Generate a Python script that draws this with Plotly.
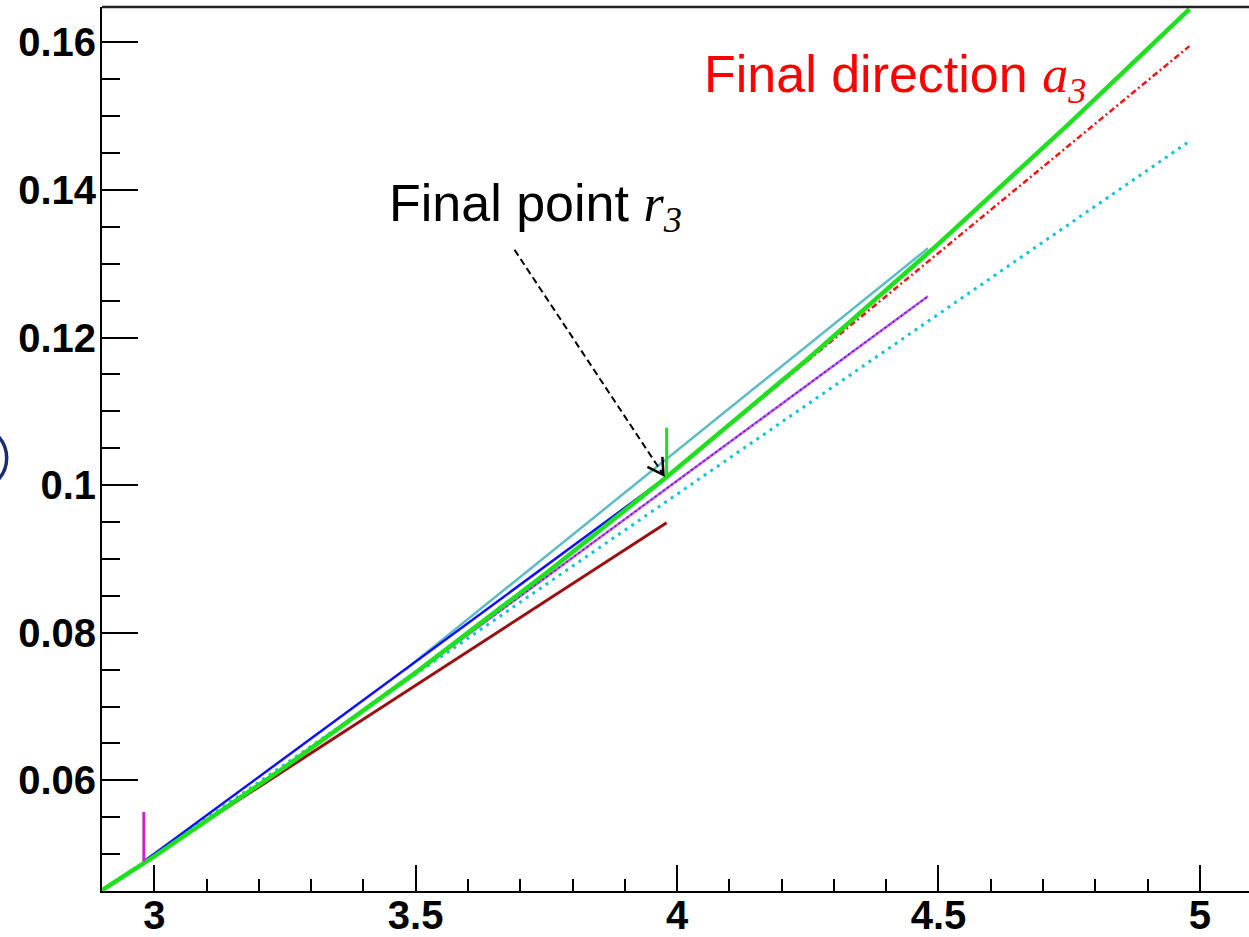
import plotly.graph_objects as go

# ---- values ----------------------------------------------------------------
# exact trajectory (curved)
track_x = [2.90, 3.00, 3.25, 3.50, 3.75, 3.98, 4.25, 4.50, 4.75, 4.98]
track_y = [0.0451, 0.0497, 0.0618, 0.0746, 0.0881, 0.1011, 0.1171, 0.1327, 0.1490, 0.1645]

# chord from the start point to the final point
chord_x = [2.98, 3.98]
chord_y = [0.0490, 0.1011]

# straight stages from the start point
stage_low_x = [2.98, 3.98]
stage_low_y = [0.0490, 0.0949]
stage_long_x = [2.98, 4.98]
stage_long_y = [0.0490, 0.1466]

# stages from the half step
half_a_x = [3.48, 4.48]
half_a_y = [0.0750, 0.1321]
half_b_x = [3.48, 4.48]
half_b_y = [0.0735, 0.1256]

# final direction from the final point
final_dir_x = [3.98, 4.98]
final_dir_y = [0.1011, 0.1595]

# direction markers at start and final point
start_mark_x = [2.98, 2.98]
start_mark_y = [0.0490, 0.0557]
end_mark_x = [3.98, 3.98]
end_mark_y = [0.1011, 0.1078]

x_range = [2.9, 5.094]
y_range = [0.045, 0.1648]
x_ticks = [3, 3.5, 4, 4.5, 5]
x_tick_text = ["3", "3.5", "4", "4.5", "5"]
y_ticks = [0.06, 0.08, 0.1, 0.12, 0.14, 0.16]
y_tick_text = ["0.06", "0.08", "0.1", "0.12", "0.14", "0.16"]

# ---- figure ----------------------------------------------------------------
fig = go.Figure()


def line(x, y, color, width, dash="solid"):
    fig.add_trace(go.Scatter(x=x, y=y, mode="lines", showlegend=False,
                             hoverinfo="skip",
                             line=dict(color=color, width=width, dash=dash)))


line(stage_low_x, stage_low_y, "#9b1010", 3)
line(stage_long_x, stage_long_y, "#10c4d4", 3, "3px,5px")
line(half_b_x, half_b_y, "#d24ee0", 2.5)
line(half_b_x, half_b_y, "#2a2aff", 1.5, "2px,3px")
line(half_a_x, half_a_y, "#5cbcc4", 2.5)
line(chord_x, chord_y, "#1010ff", 2.5)
line(final_dir_x, final_dir_y, "#ff1010", 2.5, "6px,3px,2px,3px")
line(track_x, track_y, "#1ee01e", 4.5)
line(start_mark_x, start_mark_y, "#cc22cc", 3)
line(end_mark_x, end_mark_y, "#1ee01e", 3)

# dashed pointer to the final point
tail = (3.689, 0.1319)
tip = (3.974, 0.1014)
fig.add_shape(type="line", xref="x", yref="y", x0=tail[0], y0=tail[1],
              x1=tip[0], y1=tip[1], line=dict(color="black", width=2, dash="7px,4px"))
# open arrow head
px_per_x = 522.5
px_per_y = 7376.0
head = [(-0.894 * 18, -0.446 * 18), (-0.062 * 18, -0.998 * 18)]
path = "M {:.5f},{:.5f} L {:.5f},{:.5f} L {:.5f},{:.5f}".format(
    tip[0] + head[0][0] / px_per_x, tip[1] - head[0][1] / px_per_y,
    tip[0], tip[1],
    tip[0] + head[1][0] / px_per_x, tip[1] - head[1][1] / px_per_y)
fig.add_shape(type="path", xref="x", yref="y", path=path,
              line=dict(color="black", width=2.5))

serif = "font-family:'Liberation Serif', 'Times New Roman', serif"
fig.add_annotation(x=3.446, y=0.1377, xref="x", yref="y", xanchor="left",
                   yanchor="middle", showarrow=False,
                   text="Final point <span style=\"" + serif + "\"><i>r<sub>3</sub></i></span>",
                   font=dict(family="Liberation Sans, Arial", size=52, color="black"))
fig.add_annotation(x=4.047, y=0.1552, xref="x", yref="y", xanchor="left",
                   yanchor="middle", showarrow=False,
                   text="Final direction <span style=\"" + serif + "\"><i>a<sub>3</sub></i></span>",
                   font=dict(family="Liberation Sans, Arial", size=52, color="#ff0000"))

# frame line along the top of the plot area
fig.add_shape(type="line", xref="paper", yref="paper", x0=0, x1=1, y0=1, y1=1,
              line=dict(color="#222222", width=2.5))

# partial ring at the left border
fig.add_shape(type="circle", xref="paper", yref="paper",
              x0=(-57 - 102.3) / 1146.7, x1=(7 - 102.3) / 1146.7,
              y0=(891 - 490) / 884, y1=(891 - 426) / 884,
              line=dict(color="#1c2c70", width=3.5))

tick_font = dict(family="Liberation Sans, Arial", size=40, color="black",
                 weight="bold")
fig.update_xaxes(range=x_range, tickvals=x_ticks, ticktext=x_tick_text,
                 ticks="inside", ticklen=26, tickwidth=2, tickcolor="black",
                 minor=dict(dtick=0.1, tick0=3, ticks="inside", ticklen=12,
                            tickwidth=2, tickcolor="black", showgrid=False),
                 showline=True, linecolor="black", linewidth=2, mirror=False,
                 showgrid=False, zeroline=False, tickfont=tick_font,
                 ticklabelstandoff=-12, automargin=False)
fig.update_yaxes(range=y_range, tickvals=y_ticks, ticktext=y_tick_text,
                 ticks="inside", ticklen=36, tickwidth=2, tickcolor="black",
                 minor=dict(dtick=0.005, tick0=0.06, ticks="inside", ticklen=18,
                            tickwidth=2, tickcolor="black", showgrid=False),
                 showline=True, linecolor="black", linewidth=2, mirror=False,
                 showgrid=False, zeroline=False, tickfont=tick_font,
                 ticklabelstandoff=-4, automargin=False)
fig.update_layout(width=1249, height=937,
                  margin=dict(l=102, r=0, t=7, b=46, pad=0),
                  plot_bgcolor="white", paper_bgcolor="white",
                  font=dict(family="Liberation Sans, Arial"))

# the page holds exactly one figure-sized view: no scrolling
page_js = ("document.documentElement.style.overflow='hidden';"
           "document.body.style.margin='0';"
           "document.body.style.overflow='hidden';")
fig.write_html("out.html", post_script=page_js)
